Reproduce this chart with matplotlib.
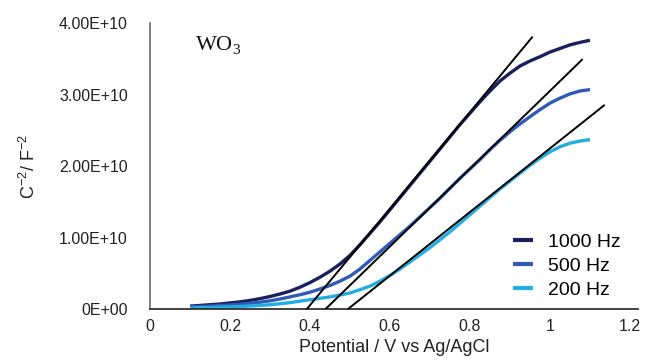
import matplotlib
matplotlib.use("Agg")
import matplotlib.pyplot as plt
import numpy as np

# Mott-Schottky data for WO3 at three frequencies (C^-2 in units of 1e10 F^-2)
potential = [0.100, 0.125, 0.150, 0.175, 0.200, 0.225, 0.250, 0.275, 0.300,
             0.325, 0.350, 0.375, 0.400, 0.425, 0.450, 0.475, 0.500, 0.525,
             0.550, 0.575, 0.600, 0.625, 0.650, 0.675, 0.700, 0.725, 0.750,
             0.775, 0.800, 0.825, 0.850, 0.875, 0.900, 0.925, 0.950, 0.975,
             1.000, 1.025, 1.050, 1.075, 1.100]
c2_1000 = [0.040, 0.050, 0.060, 0.070, 0.085, 0.100, 0.120, 0.145, 0.175,
           0.210, 0.250, 0.305, 0.370, 0.445, 0.530, 0.630, 0.750, 0.900,
           1.060, 1.220, 1.390, 1.560, 1.730, 1.900, 2.070, 2.240, 2.410,
           2.580, 2.740, 2.900, 3.050, 3.190, 3.300, 3.400, 3.470, 3.530,
           3.595, 3.645, 3.695, 3.730, 3.760]
c2_500 = [0.030, 0.035, 0.040, 0.048, 0.056, 0.065, 0.080, 0.095, 0.115,
          0.140, 0.170, 0.200, 0.235, 0.280, 0.330, 0.390, 0.460, 0.560,
          0.680, 0.800, 0.920, 1.040, 1.160, 1.290, 1.420, 1.550, 1.690,
          1.830, 1.960, 2.090, 2.230, 2.360, 2.480, 2.590, 2.690, 2.790,
          2.880, 2.950, 3.010, 3.050, 3.070]
c2_200 = [0.015, 0.018, 0.020, 0.025, 0.030, 0.035, 0.042, 0.050, 0.060,
          0.074, 0.090, 0.110, 0.130, 0.150, 0.170, 0.195, 0.225, 0.270,
          0.320, 0.390, 0.470, 0.560, 0.660, 0.760, 0.860, 0.970, 1.080,
          1.200, 1.320, 1.440, 1.560, 1.680, 1.790, 1.900, 2.010, 2.110,
          2.200, 2.270, 2.320, 2.350, 2.370]

labels = ["1000 Hz", "500 Hz", "200 Hz"]
colors = ["#1b1f5e", "#2e5cb5", "#22aee0"]

# Linear fits: x-intercept (flat-band potential), slope (1e10 per V), end of drawn segment
fit_x0 = [0.392, 0.439, 0.495]
fit_slope = [6.75, 5.44, 4.45]
fit_xend = [0.955, 1.08, 1.135]

xticks = [0, 0.2, 0.4, 0.6, 0.8, 1.0, 1.2]
xtick_labels = ["0", "0.2", "0.4", "0.6", "0.8", "1", "1.2"]
yticks = [0, 1e10, 2e10, 3e10, 4e10]
ytick_labels = ["0E+00", "1.00E+10", "2.00E+10", "3.00E+10", "4.00E+10"]

plt.rcParams["font.family"] = ["Liberation Sans", "DejaVu Sans"]
plt.rcParams["mathtext.fontset"] = "custom"
plt.rcParams["mathtext.rm"] = "Liberation Sans"
plt.rcParams["mathtext.it"] = "Liberation Sans:italic"

fig = plt.figure(figsize=(6.5, 3.61), dpi=100)
ax = fig.add_axes([0.2308, 0.144, 0.7507, 0.792])

series = [c2_1000, c2_500, c2_200]
for vals, lab, col in zip(series, labels, colors):
    ax.plot(potential, np.array(vals) * 1e10, color=col, lw=2.4,
            solid_capstyle="butt", solid_joinstyle="round", label=lab)

for x0, k, xe in zip(fit_x0, fit_slope, fit_xend):
    xs = np.array([x0, xe])
    ax.plot(xs, k * (xs - x0) * 1e10, color="black", lw=1.4, zorder=3)

ax.set_xlim(0, 1.22)
ax.set_ylim(0, 4e10)
ax.set_xticks(xticks)
ax.set_xticklabels(xtick_labels)
ax.set_yticks(yticks)
ax.set_yticklabels(ytick_labels)
ax.tick_params(axis="both", length=0, labelsize=11.5, colors="#222222")
ax.tick_params(axis="y", pad=16)
ax.tick_params(axis="x", pad=7)

for side in ("top", "right"):
    ax.spines[side].set_visible(False)
ax.spines["left"].set_color("#777777")
ax.spines["left"].set_linewidth(1.3)
ax.spines["bottom"].set_color("#333333")
ax.spines["bottom"].set_linewidth(1.3)

ax.set_xlabel("Potential / V vs Ag/AgCl", fontsize=13, color="#222222", labelpad=4)
ax.set_ylabel("C$^{-2}$/ F$^{-2}$", fontsize=13, color="#222222", labelpad=14)

wo = ax.text(0.115, 3.62e10, "WO", family="Liberation Serif", fontsize=16,
             ha="left", va="baseline", color="#111111")
ax.annotate("3", xy=(1.0, 0.0), xycoords=wo, xytext=(-0.8, -1.0),
            textcoords="offset points", family="Liberation Serif",
            fontsize=11, ha="left", va="bottom", color="#111111")

leg = ax.legend(loc="center left", bbox_to_anchor=(0.744, 0.15), frameon=False,
                fontsize=14, handlelength=1.05, handletextpad=0.75,
                labelspacing=0.34, borderpad=0, borderaxespad=0)
for line in leg.get_lines():
    line.set_linewidth(3)

fig.savefig("out.png", dpi=100)
